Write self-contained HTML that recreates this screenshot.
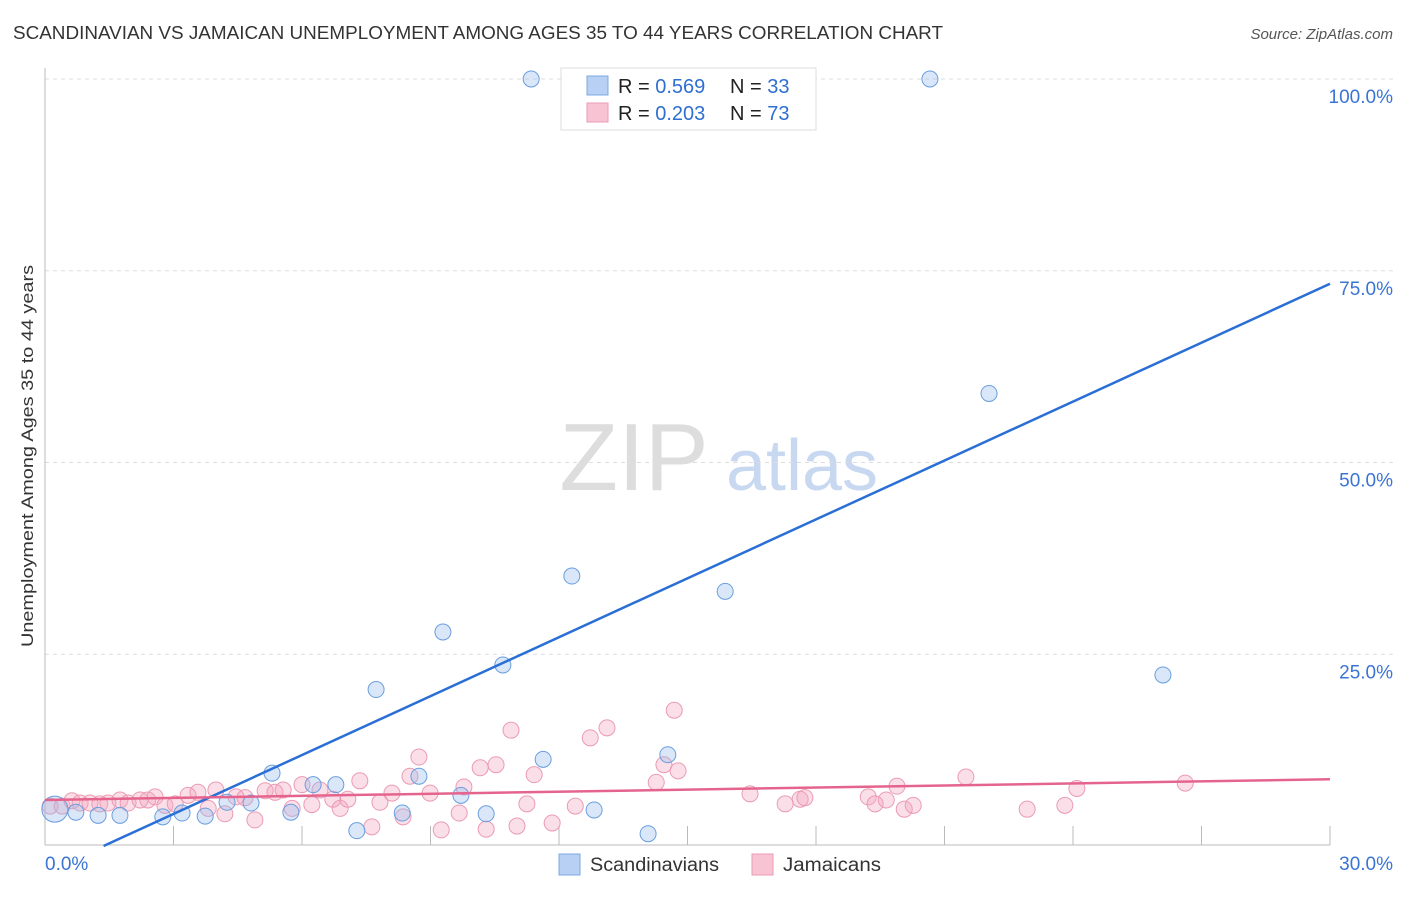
<!DOCTYPE html>
<html><head><meta charset="utf-8">
<style>
body{margin:0;background:#fff;font-family:"Liberation Sans",sans-serif;}
svg text{font-family:"Liberation Sans",sans-serif;}
</style></head>
<body>
<svg id="chart" width="1406" height="892" viewBox="0 0 1406 892" xmlns="http://www.w3.org/2000/svg">
<text x="13" y="39" font-size="18" fill="#333" textLength="930" lengthAdjust="spacingAndGlyphs">SCANDINAVIAN VS JAMAICAN UNEMPLOYMENT AMONG AGES 35 TO 44 YEARS CORRELATION CHART</text>
<text x="1393" y="39" font-size="15" fill="#555" text-anchor="end" font-style="italic">Source: ZipAtlas.com</text>
<text transform="translate(33,456) rotate(-90)" font-size="17" fill="#333" text-anchor="middle" textLength="382" lengthAdjust="spacingAndGlyphs">Unemployment Among Ages 35 to 44 years</text>
<text x="634" y="490" font-size="96" fill="#ddd" text-anchor="middle" font-family="Liberation Serif">ZIP</text>
<text x="802" y="490" font-size="72" fill="#c8d8f0" text-anchor="middle">atlas</text>
<g id="grid"></g><g id="axes"></g><g id="pts"></g><g id="lines"></g>
<g>
<rect x="561" y="68" width="255" height="62" fill="#fff" stroke="#ddd"/>
<rect x="587" y="76" width="21" height="19" fill="#b7d0f3" stroke="#7ea8e0"/>
<rect x="587" y="103" width="21" height="19" fill="#f8c4d3" stroke="#eb9bb4"/>
<text x="618" y="93" font-size="20" fill="#222">R = <tspan fill="#2f6fd0">0.569</tspan></text>
<text x="730" y="93" font-size="20" fill="#222">N = <tspan fill="#2f6fd0">33</tspan></text>
<text x="618" y="120" font-size="20" fill="#222">R = <tspan fill="#2f6fd0">0.203</tspan></text>
<text x="730" y="120" font-size="20" fill="#222">N = <tspan fill="#2f6fd0">73</tspan></text>
</g>
<g>
<rect x="559" y="854" width="21" height="21" fill="#b7d0f3" stroke="#7ea8e0"/>
<text x="590" y="871" font-size="19" fill="#333" textLength="129" lengthAdjust="spacingAndGlyphs">Scandinavians</text>
<rect x="752" y="854" width="21" height="21" fill="#f8c4d3" stroke="#eb9bb4"/>
<text x="783" y="871" font-size="19" fill="#333" textLength="98" lengthAdjust="spacingAndGlyphs">Jamaicans</text>
</g>
</svg>
<script>
const yTicks=[25,50,75,100];
const yTickLabels=["25.0%","50.0%","75.0%","100.0%"];
const xTickVals=[0,3,6,9,12,15,18,21,24,27,30];
const blueX=[0.23,0.72,1.24,1.75,2.75,3.2,3.74,4.25,4.81,5.3,5.74,6.26,6.79,7.28,7.73,8.34,8.73,9.29,9.71,10.3,10.69,11.35,11.63,12.3,12.82,14.08,14.54,15.27,15.88,20.66,22.04,26.1];
const blueY=[4.8,4.4,4.0,4.0,3.8,4.3,3.9,5.7,5.6,9.5,4.4,8.0,8.0,2.0,20.4,4.3,9.1,27.9,6.6,4.2,23.6,100,11.3,35.2,4.7,1.6,11.9,100,33.2,100,59.0,22.3];
const pinkX=[0.12,0.4,0.63,0.82,1.05,1.28,1.47,1.75,1.94,2.22,2.4,2.57,2.8,3.04,3.34,3.57,3.81,3.99,4.2,4.46,4.67,4.9,5.14,5.37,5.56,5.77,6.0,6.23,6.42,6.72,6.89,7.07,7.35,7.63,7.82,8.1,8.36,8.52,8.73,8.99,9.25,9.67,9.78,10.16,10.3,10.53,10.88,11.02,11.25,11.42,11.84,12.38,12.73,13.12,14.27,14.45,14.69,14.78,16.46,17.28,17.63,17.74,19.22,19.38,19.64,19.89,20.06,20.27,21.5,22.93,23.81,24.09,26.62];
const pinkY=[5.2,5.2,5.9,5.6,5.6,5.5,5.6,6.0,5.6,6.0,6.0,6.4,5.3,5.5,6.6,7.0,4.9,7.3,4.2,6.4,6.3,3.4,7.2,7.0,7.3,4.9,8.0,5.4,7.3,6.1,4.9,6.1,8.5,2.5,5.7,6.9,3.8,9.1,11.6,6.9,2.1,4.3,7.7,10.2,2.2,10.6,15.1,2.6,5.5,9.3,3.0,5.2,14.1,15.4,8.3,10.6,17.7,9.8,6.8,5.5,6.1,6.3,6.4,5.5,6.0,7.8,4.8,5.3,9.0,4.8,5.3,7.5,8.2];
const blueLine=[-3.5,73.3];
const pinkLine=[6.0,8.7];
const NS="http://www.w3.org/2000/svg";
const X=v=>45+v*(1285/30);
const Y=v=>846-v*7.67;
function mk(tag,attrs,parent){const e=document.createElementNS(NS,tag);for(const k in attrs)e.setAttribute(k,attrs[k]);document.getElementById(parent).appendChild(e);return e;}
yTicks.forEach((t,i)=>{
 const g=mk('line',{x1:45,x2:1393,y1:Y(t),y2:Y(t),stroke:'#ddd','stroke-dasharray':'4,4'},'grid');
 
 
 const tx=mk('text',{x:1393,y:Y(t)+24,'font-size':19,fill:'#3a74d4','text-anchor':'end'},'grid');
 tx.textContent=yTickLabels[i];
 
 
});
const ya=mk('line',{x1:45,x2:45,y1:68,y2:845,stroke:'#bbb'},'axes');


const xa=mk('line',{x1:45,x2:1330,y1:845,y2:845,stroke:'#bbb'},'axes');


xTickVals.forEach(v=>{
 const t=mk('line',{x1:X(v),x2:X(v),y1:826,y2:845,stroke:'#bbb'},'axes');
 
 
});
const l0=mk('text',{x:45,y:870,'font-size':19,fill:'#3a74d4'},'axes');l0.textContent='0.0%';


const l1=mk('text',{x:1393,y:870,'font-size':19,fill:'#3a74d4','text-anchor':'end'},'axes');l1.textContent='30.0%';


pinkX.forEach((x,i)=>{
 const c=mk('circle',{cx:X(x),cy:Y(pinkY[i]),r:8,fill:'rgba(244,164,188,0.35)',stroke:'#eb9bb4','stroke-width':1},'pts');
 
 
});
blueX.forEach((x,i)=>{
 const c=mk('circle',{cx:X(x),cy:Y(blueY[i]),r:i===0?13:8,fill:'rgba(147,187,236,0.35)',stroke:'#6a9ee0','stroke-width':1},'pts');
 
 
});
const xs=(0-blueLine[0])/(blueLine[1]-blueLine[0])*30;
const bl=mk('line',{x1:X(xs),y1:Y(0),x2:X(30),y2:Y(blueLine[1]),stroke:'#2a6fd6','stroke-width':2.5},'lines');


const pl=mk('line',{x1:X(0),y1:Y(pinkLine[0]),x2:X(30),y2:Y(pinkLine[1]),stroke:'#e5648e','stroke-width':2.5},'lines');


</script>
</body></html>
